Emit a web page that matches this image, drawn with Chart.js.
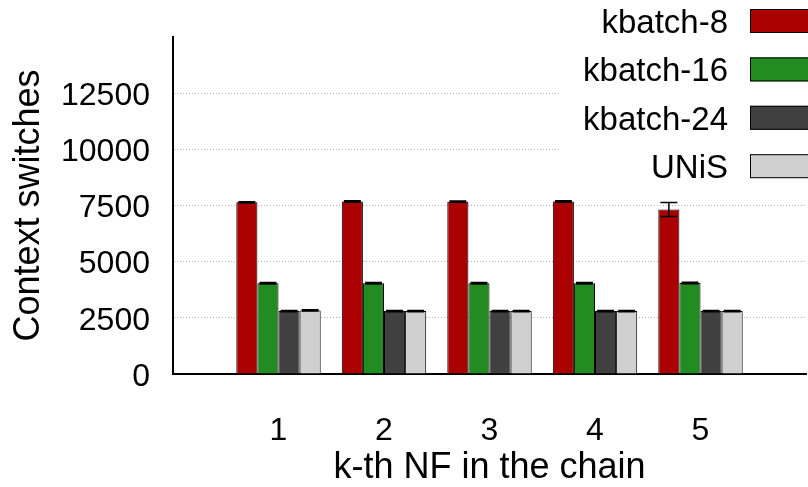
<!DOCTYPE html>
<html><head><meta charset="utf-8">
<script src="https://cdn.jsdelivr.net/npm/chart.js@4.4.0/dist/chart.umd.min.js"></script>
<style>html,body{margin:0;padding:0;background:#fff;}</style>
</head><body>
<canvas id="c" width="808" height="487"></canvas>
<script>
// ---- data ----
const categories = ['1', '2', '3', '4', '5'];
const seriesNames = ['kbatch-8', 'kbatch-16', 'kbatch-24', 'UNiS'];
const kbatch8 = [7640, 7680, 7670, 7680, 7320];
const kbatch16 = [4040, 4040, 4040, 4040, 4050];
const kbatch24 = [2800, 2800, 2800, 2800, 2800];
const unis = [2830, 2800, 2800, 2800, 2800];
const err8 = [30, 30, 30, 30, 310];
const err16 = [30, 30, 30, 30, 30];
const err24 = [30, 30, 30, 30, 30];
const errUnis = [30, 30, 30, 30, 30];
const yMax = 15000;
const yStep = 2500;

// ---- styles ----
const colors = ['#aa0000', '#228b22', '#404040', '#d0d0d0'];
const FONT = "'Liberation Sans', Arial, Helvetica, sans-serif";

const values = [kbatch8, kbatch16, kbatch24, unis];
const errors = [err8, err16, err24, errUnis];
const labels = [''].concat(categories, ['']);
const pad = a => [null].concat(a, [null]);

const datasets = seriesNames.map((name, i) => ({
  label: name,
  data: pad(values[i]),
  errs: pad(errors[i]),
  backgroundColor: colors[i],
  borderColor: '#000',
  borderWidth: 1,
  borderSkipped: 'start',
  categoryPercentage: 0.8,
  barPercentage: 1.0
}));

const errorBars = {
  id: 'errorBars',
  afterDatasetsDraw(chart) {
    const ctx = chart.ctx, ys = chart.scales.y;
    ctx.save();
    ctx.strokeStyle = '#000';
    ctx.lineWidth = 1.5;
    chart.data.datasets.forEach((ds, i) => {
      const meta = chart.getDatasetMeta(i);
      meta.data.forEach((el, j) => {
        const v = ds.data[j], e = ds.errs[j];
        if (v == null || e == null) return;
        const x = el.x;
        const hi = ys.getPixelForValue(v + e), lo = ys.getPixelForValue(v - e);
        ctx.beginPath();
        ctx.moveTo(x, hi); ctx.lineTo(x, lo);
        ctx.moveTo(x - 8.5, hi); ctx.lineTo(x + 8.5, hi);
        ctx.moveTo(x - 8.5, lo); ctx.lineTo(x + 8.5, lo);
        ctx.stroke();
      });
    });
    ctx.restore();
  }
};

const customLegend = {
  id: 'customLegend',
  afterDraw(chart) {
    const ctx = chart.ctx;
    ctx.save();
    ctx.fillStyle = '#fff';
    ctx.fillRect(560, 0, 248, 188);
    ctx.font = '33px ' + FONT;
    ctx.textAlign = 'right';
    ctx.textBaseline = 'alphabetic';
    chart.data.datasets.forEach((ds, i) => {
      const bottom = 33 + i * 48.4;
      ctx.fillStyle = '#000';
      ctx.fillText(ds.label, 728, bottom);
      ctx.fillStyle = ds.backgroundColor;
      ctx.fillRect(750, bottom - 24, 70, 24);
      ctx.strokeStyle = '#000';
      ctx.lineWidth = 1;
      ctx.strokeRect(750.5, bottom - 23.5, 70, 23);
    });
    ctx.restore();
  }
};

new Chart(document.getElementById('c'), {
  type: 'bar',
  data: { labels: labels, datasets: datasets },
  plugins: [errorBars, customLegend],
  options: {
    responsive: false,
    devicePixelRatio: 1,
    animation: false,
    layout: { padding: { top: 37, right: 2, left: 0, bottom: 0 } },
    plugins: { legend: { display: false }, tooltip: { enabled: false } },
    scales: {
      x: {
        type: 'category',
        offset: false,
        grid: { display: false, drawTicks: false },
        border: { display: true, color: '#000', width: 2 },
        ticks: { font: { size: 32, family: FONT }, color: '#000', padding: 38, maxRotation: 0, autoSkip: false },
        title: { display: true, text: 'k-th NF in the chain', font: { size: 36, family: FONT }, color: '#000', padding: { top: 0, bottom: -3 } },
        afterFit(s) { s.height = 113; s.paddingLeft = 0; s.paddingRight = 0; }
      },
      y: {
        min: 0, max: yMax,
        ticks: {
          stepSize: yStep,
          font: { size: 32, family: FONT }, color: '#000', padding: 23, labelOffset: 3,
          callback: v => (v >= yMax ? '' : String(v))
        },
        grid: {
          drawTicks: false,
          color: c => (c.tick && c.tick.value > 0 && c.tick.value < yMax) ? '#b0b0b0' : 'rgba(0,0,0,0)',
          lineWidth: 1
        },
        border: { display: true, color: '#000', width: 2, dash: [1, 2] },
        title: { display: true, text: 'Context switches', font: { size: 36, family: FONT }, color: '#000', padding: { top: 7, bottom: 0 } },
        afterFit(s) { s.width = 173; s.paddingTop = 0; s.paddingBottom = 0; }
      }
    }
  }
});
</script>
</body></html>
